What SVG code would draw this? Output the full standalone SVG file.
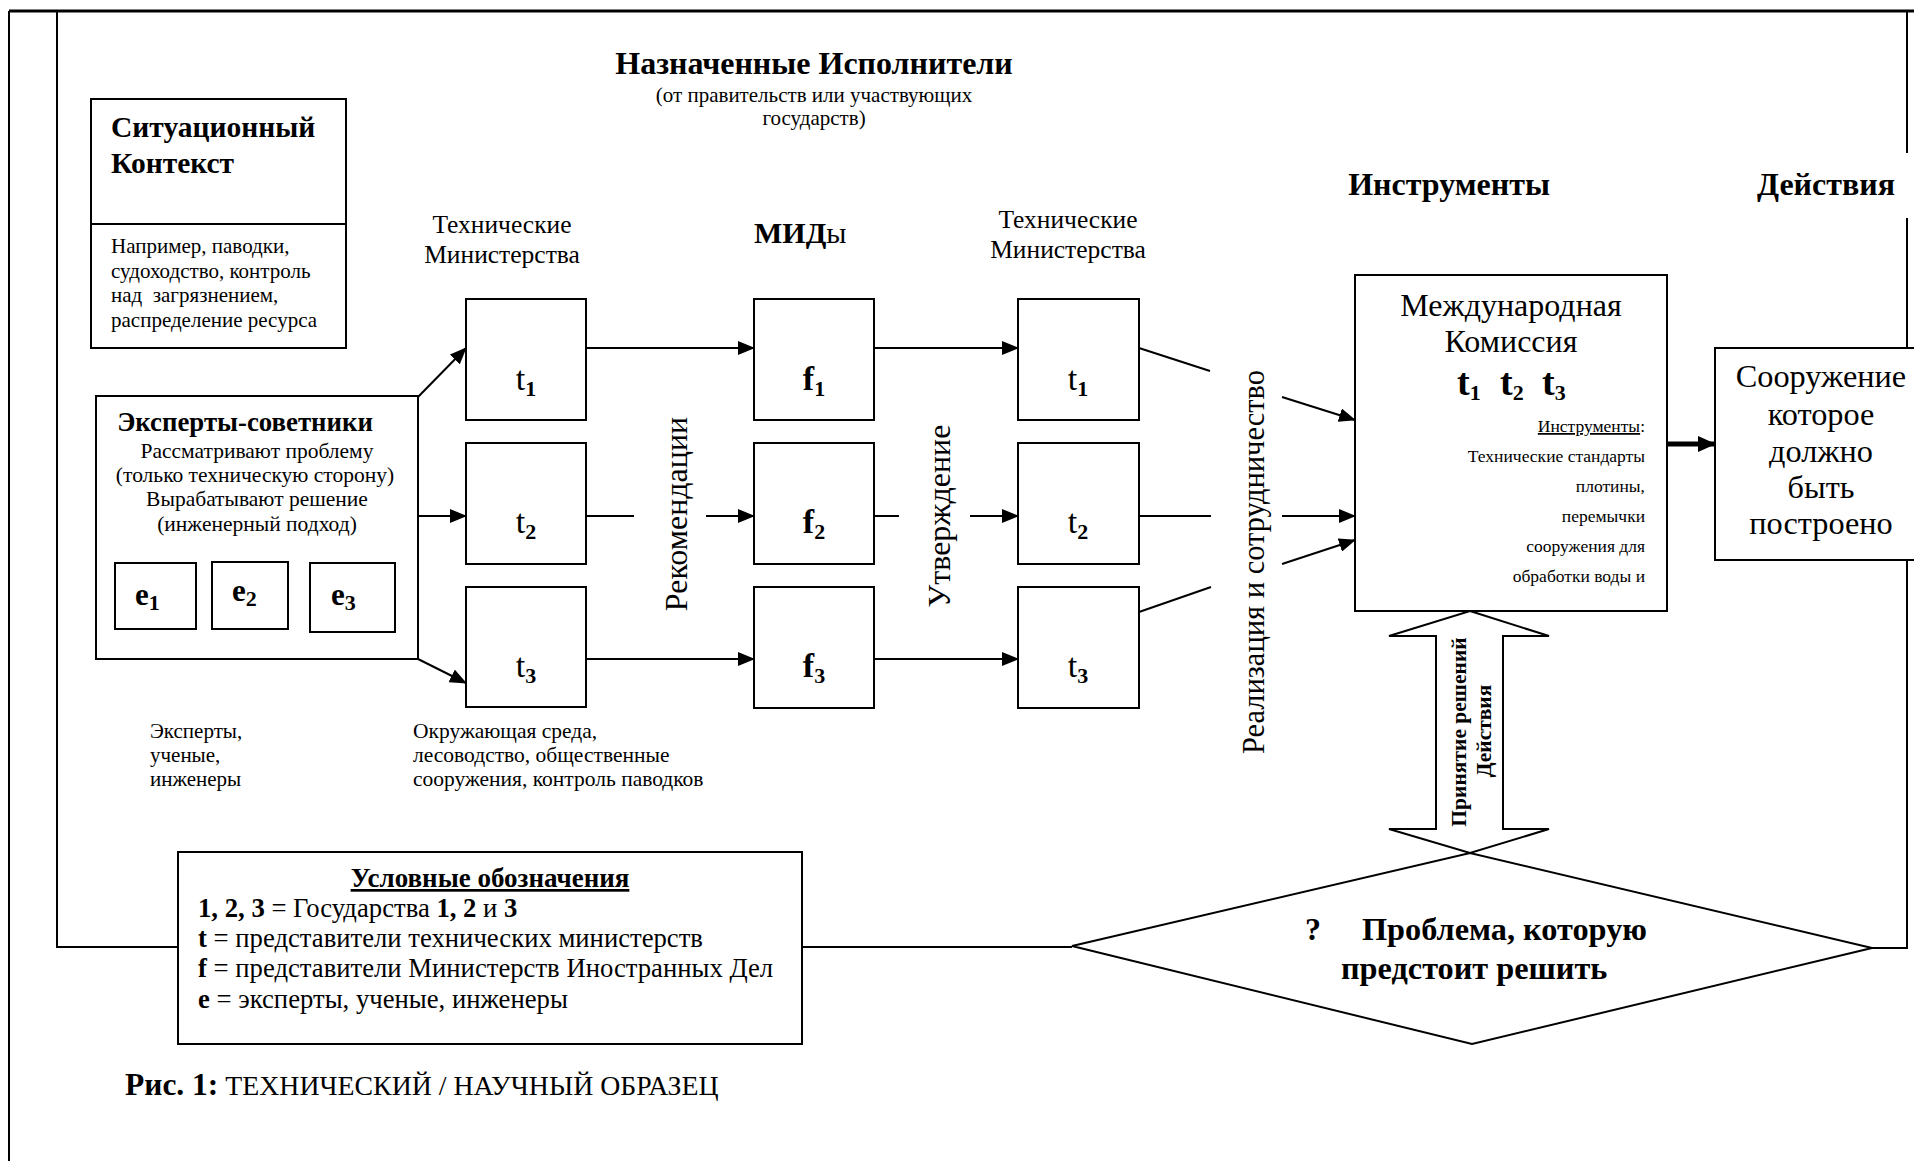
<svg xmlns="http://www.w3.org/2000/svg" width="1914" height="1161" viewBox="0 0 1914 1161">
<style>
text{font-family:"Liberation Serif","Times New Roman",serif;fill:#000}
.b{font-weight:bold}
.box{fill:#fff;stroke:#000;stroke-width:2}
.ln{fill:none;stroke:#000;stroke-width:2}
.ar{fill:none;stroke:#000;stroke-width:2;marker-end:url(#ah)}
.mid{text-anchor:middle}
.end{text-anchor:end}
.lbl{font-size:34px}
.sub{font-size:22px;font-weight:bold}
</style>
<defs>
<marker id="ah" markerWidth="17" markerHeight="14" refX="16" refY="7" orient="auto" markerUnits="userSpaceOnUse">
<path d="M0,0 L17,7 L0,14 Z" fill="#000"/>
</marker>
<marker id="ahb" markerWidth="18" markerHeight="16" refX="17" refY="8" orient="auto" markerUnits="userSpaceOnUse">
<path d="M0,0 L18,8 L0,16 Z" fill="#000"/>
</marker>
</defs>
<rect width="1914" height="1161" fill="#fff"/>

<g id="frame">
<line x1="9" y1="11" x2="1914" y2="11" stroke="#000" stroke-width="3"/>
<line x1="9" y1="11" x2="9" y2="1161" class="ln"/>
<polyline points="57,11 57,947 178,947" class="ln"/>
<line x1="802" y1="947" x2="1072" y2="947" class="ln"/>
<polyline points="1872,948 1907,948 1907,560" class="ln"/>
<line x1="1907" y1="348" x2="1907" y2="218" class="ln"/>
<line x1="1907" y1="153" x2="1907" y2="11" class="ln"/>
</g>

<g id="headers">
<text x="814" y="74" class="b mid" font-size="32">Назначенные Исполнители</text>
<text x="814" y="102" class="mid" font-size="21">(от правительств или участвующих</text>
<text x="814" y="125" class="mid" font-size="21">государств)</text>
<text x="502" y="233" class="mid" font-size="25.5">Технические</text>
<text x="502" y="263" class="mid" font-size="25.5">Министерства</text>
<text x="754" y="243" font-size="30"><tspan class="b">МИД</tspan>ы</text>
<text x="1068" y="228" class="mid" font-size="25.5">Технические</text>
<text x="1068" y="258" class="mid" font-size="25.5">Министерства</text>
<text x="1449" y="195" class="b mid" font-size="32">Инструменты</text>
<text x="1826" y="195" class="b mid" font-size="32">Действия</text>
</g>

<g id="context">
<rect x="91" y="99" width="255" height="249" class="box"/>
<line x1="91" y1="224" x2="346" y2="224" class="ln"/>
<text x="111" y="137" class="b" font-size="29.5">Ситуационный</text>
<text x="111" y="173" class="b" font-size="29.5">Контекст</text>
<text x="111" y="253" font-size="21">Например, паводки,</text>
<text x="111" y="278" font-size="21">судоходство, контроль</text>
<text x="111" y="302" font-size="21" style="white-space:pre">над  загрязнением,</text>
<text x="111" y="327" font-size="21">распределение ресурса</text>
</g>

<g id="experts">
<rect x="96" y="396" width="322" height="263" class="box"/>
<text x="245" y="431" class="b mid" font-size="26.8">Эксперты-советники</text>
<text x="257" y="458" class="mid" font-size="21.5">Рассматривают проблему</text>
<text x="255" y="482" class="mid" font-size="21.5">(только техническую сторону)</text>
<text x="257" y="506" class="mid" font-size="21.5">Вырабатывают решение</text>
<text x="257" y="531" class="mid" font-size="21.5">(инженерный подход)</text>
</g>
<g id="e1"><rect x="115" y="563" width="81" height="66" class="box"/><text x="135" y="605" class="b" font-size="31">e<tspan class="sub" dy="5">1</tspan></text></g>
<g id="e2"><rect x="212" y="562" width="76" height="67" class="box"/><text x="232" y="601" class="b" font-size="31">e<tspan class="sub" dy="5">2</tspan></text></g>
<g id="e3"><rect x="310" y="563" width="85" height="69" class="box"/><text x="331" y="605" class="b" font-size="31">e<tspan class="sub" dy="5">3</tspan></text></g>

<g id="experts-caption">
<text x="150" y="738" font-size="21">Эксперты,</text>
<text x="150" y="762" font-size="21">ученые,</text>
<text x="150" y="786" font-size="21">инженеры</text>
</g>
<g id="ministries-caption">
<text x="413" y="738" font-size="21.5">Окружающая среда,</text>
<text x="413" y="762" font-size="21.5">лесоводство, общественные</text>
<text x="413" y="786" font-size="21.5">сооружения, контроль паводков</text>
</g>

<g id="t1"><rect x="466" y="299" width="120" height="121" class="box"/><text x="526" y="390" class="mid lbl">t<tspan class="sub" dy="6">1</tspan></text></g>
<g id="t2"><rect x="466" y="443" width="120" height="121" class="box"/><text x="526" y="533" class="mid lbl">t<tspan class="sub" dy="6">2</tspan></text></g>
<g id="t3"><rect x="466" y="587" width="120" height="120" class="box"/><text x="526" y="677" class="mid lbl">t<tspan class="sub" dy="6">3</tspan></text></g>
<g id="f1"><rect x="754" y="299" width="120" height="121" class="box"/><text x="814" y="390" class="mid lbl b">f<tspan class="sub" dy="6">1</tspan></text></g>
<g id="f2"><rect x="754" y="443" width="120" height="121" class="box"/><text x="814" y="533" class="mid lbl b">f<tspan class="sub" dy="6">2</tspan></text></g>
<g id="f3"><rect x="754" y="587" width="120" height="121" class="box"/><text x="814" y="677" class="mid lbl b">f<tspan class="sub" dy="6">3</tspan></text></g>
<g id="t1b"><rect x="1018" y="299" width="121" height="121" class="box"/><text x="1078" y="390" class="mid lbl">t<tspan class="sub" dy="6">1</tspan></text></g>
<g id="t2b"><rect x="1018" y="443" width="121" height="121" class="box"/><text x="1078" y="533" class="mid lbl">t<tspan class="sub" dy="6">2</tspan></text></g>
<g id="t3b"><rect x="1018" y="587" width="121" height="121" class="box"/><text x="1078" y="677" class="mid lbl">t<tspan class="sub" dy="6">3</tspan></text></g>

<g id="commission">
<rect x="1355" y="275" width="312" height="336" class="box"/>
<text x="1511" y="316" class="mid" font-size="32">Международная</text>
<text x="1511" y="352" class="mid" font-size="32">Комиссия</text>
<text x="1457" y="395" class="b" font-size="38">t<tspan class="sub" dy="5">1</tspan></text>
<text x="1500" y="395" class="b" font-size="38">t<tspan class="sub" dy="5">2</tspan></text>
<text x="1542" y="395" class="b" font-size="38">t<tspan class="sub" dy="5">3</tspan></text>
<text x="1645" y="432" class="end" font-size="17.5"><tspan text-decoration="underline">Инструменты</tspan>:</text>
<text x="1645" y="462" class="end" font-size="17.5">Технические стандарты</text>
<text x="1645" y="492" class="end" font-size="17.5">плотины,</text>
<text x="1645" y="522" class="end" font-size="17.5">перемычки</text>
<text x="1645" y="552" class="end" font-size="17.5">сооружения для</text>
<text x="1645" y="582" class="end" font-size="17.5">обработки воды и</text>
</g>

<g id="structure">
<rect x="1715" y="348" width="210" height="212" class="box"/>
<text x="1821" y="387" class="mid" font-size="32.3">Сооружение</text>
<text x="1821" y="425" class="mid" font-size="32.3">которое</text>
<text x="1821" y="462" class="mid" font-size="32.3">должно</text>
<text x="1821" y="498" class="mid" font-size="32.3">быть</text>
<text x="1821" y="534" class="mid" font-size="32.3">построено</text>
</g>

<g id="problem">
<polygon points="1072,946 1470,853 1872,948 1472,1044" class="box"/>
<text x="1305" y="940" class="b" font-size="32">?</text>
<text x="1362" y="940" class="b" font-size="32.3">Проблема, которую</text>
<text x="1341" y="979" class="b" font-size="32.3">предстоит решить</text>
</g>

<g id="legend">
<rect x="178" y="852" width="624" height="192" class="box"/>
<text x="490" y="887" class="b mid" font-size="27" text-decoration="underline">Условные обозначения</text>
<text x="198" y="917" font-size="26.7"><tspan class="b">1, 2, 3</tspan> = Государства <tspan class="b">1, 2</tspan> и <tspan class="b">3</tspan></text>
<text x="198" y="947" font-size="26.7"><tspan class="b">t</tspan> = представители технических министерств</text>
<text x="198" y="977" font-size="26.7"><tspan class="b">f</tspan> = представители Министерств Иностранных Дел</text>
<text x="198" y="1008" font-size="26.7"><tspan class="b">e</tspan> = эксперты, ученые, инженеры</text>
</g>

<g id="caption">
<text x="125" y="1095" font-size="27.8"><tspan class="b" font-size="31.5">Рис. 1:</tspan> ТЕХНИЧЕСКИЙ / НАУЧНЫЙ ОБРАЗЕЦ</text>
</g>

<g id="stage-labels">
<text transform="translate(687,514) rotate(-90)" class="mid" font-size="32">Рекомендации</text>
<text transform="translate(950,516) rotate(-90)" class="mid" font-size="32">Утверждение</text>
<text transform="translate(1264,562) rotate(-90)" class="mid" font-size="30.5">Реализация и сотрудничество</text>
</g>

<g id="connectors">
<line x1="418" y1="397" x2="466" y2="348" class="ar"/>
<line x1="418" y1="516" x2="466" y2="516" class="ar"/>
<line x1="418" y1="659" x2="466" y2="683" class="ar"/>
<line x1="586" y1="348" x2="754" y2="348" class="ar"/>
<line x1="874" y1="348" x2="1018" y2="348" class="ar"/>
<line x1="1139" y1="348" x2="1210" y2="371" class="ln"/>
<line x1="1282" y1="397" x2="1355" y2="420" class="ar"/>
<line x1="586" y1="516" x2="634" y2="516" class="ln"/>
<line x1="706" y1="516" x2="754" y2="516" class="ar"/>
<line x1="874" y1="516" x2="899" y2="516" class="ln"/>
<line x1="970" y1="516" x2="1018" y2="516" class="ar"/>
<line x1="1139" y1="516" x2="1211" y2="516" class="ln"/>
<line x1="1282" y1="516" x2="1355" y2="516" class="ar"/>
<line x1="586" y1="659" x2="754" y2="659" class="ar"/>
<line x1="874" y1="659" x2="1018" y2="659" class="ar"/>
<line x1="1139" y1="612" x2="1211" y2="587" class="ln"/>
<line x1="1282" y1="564" x2="1355" y2="540" class="ar"/>
<line x1="1667" y1="444" x2="1715" y2="444" stroke="#000" stroke-width="5" marker-end="url(#ahb)"/>
<polygon points="1470,611 1549,636 1503,636 1503,829 1549,829 1470,853 1389,829 1436,829 1436,636 1389,636" class="box"/>
<text transform="translate(1466,732) rotate(-90)" class="b mid" font-size="21.5">Принятие решений</text>
<text transform="translate(1491,731) rotate(-90)" class="b mid" font-size="21.5">Действия</text>
</g>
</svg>
